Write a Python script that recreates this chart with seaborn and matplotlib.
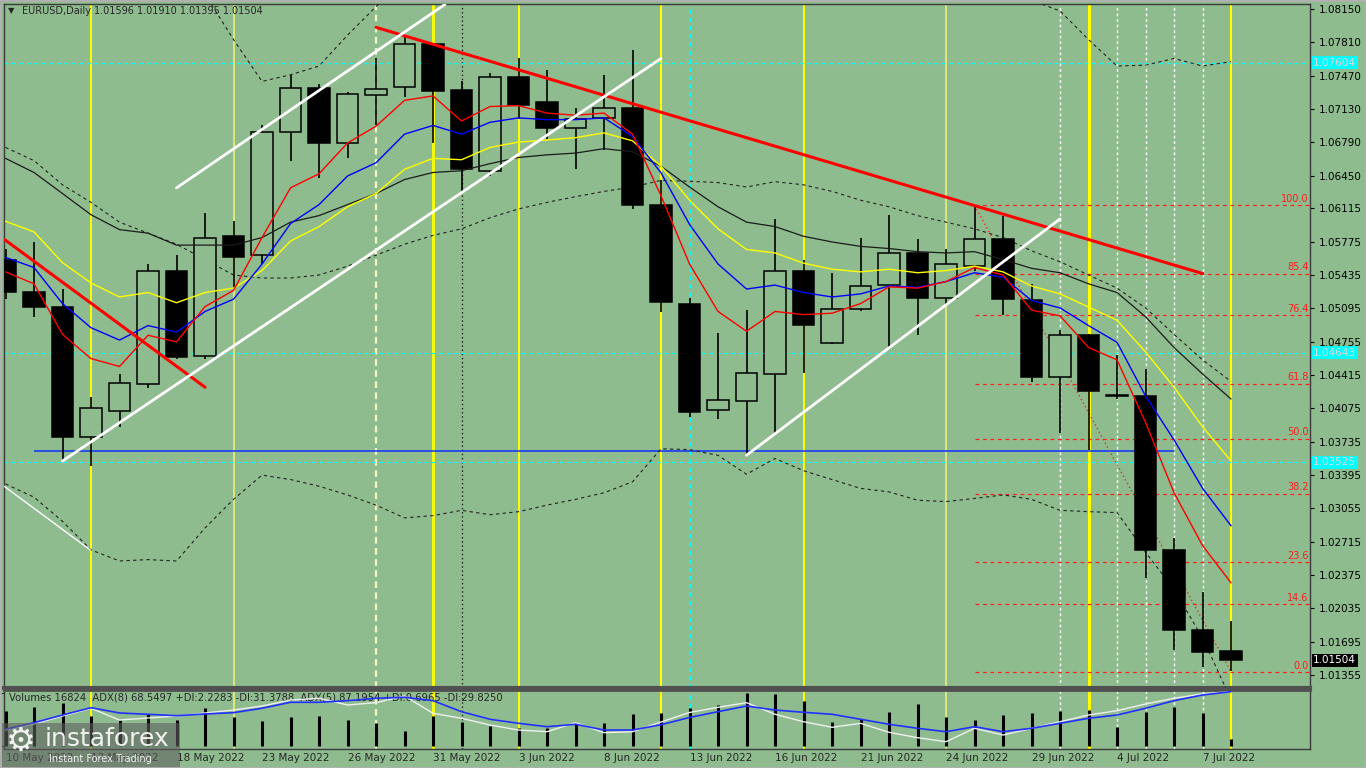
import numpy as np
import seaborn as sns
import matplotlib.pyplot as plt
from matplotlib.patches import Rectangle

# ---- data (EURUSD daily, 10 May .. 8 Jul 2022) ----
opens = [1.05593, 1.05266, 1.05113, 1.03784, 1.04045, 1.04327, 1.05472, 1.04606, 1.05831, 1.05638,
         1.06895, 1.07344, 1.06783, 1.07277, 1.07357, 1.07793, 1.07322, 1.06500, 1.07456, 1.07200,
         1.06940, 1.07039, 1.07142, 1.06154, 1.05144, 1.04058, 1.04148, 1.04426, 1.05481, 1.04740,
         1.05090, 1.05333, 1.05665, 1.05203, 1.05526, 1.05804, 1.05176, 1.04395, 1.04821, 1.04215,
         1.04202, 1.02631, 1.01809, 1.01596]
highs = [1.05700, 1.05773, 1.05288, 1.04188, 1.04426, 1.05548, 1.05638, 1.06065, 1.05984, 1.06971,
         1.07479, 1.07389, 1.07308, 1.07645, 1.07860, 1.07802, 1.07411, 1.07501, 1.07645, 1.07524,
         1.07142, 1.07479, 1.07735, 1.06410, 1.05198, 1.04843, 1.05077, 1.06011, 1.05593, 1.05458,
         1.05818, 1.06051, 1.05804, 1.05701, 1.06146, 1.06042, 1.05346, 1.04875, 1.04830, 1.04615,
         1.04480, 1.02756, 1.02204, 1.01910]
lows = [1.05189, 1.05010, 1.03537, 1.03492, 1.03887, 1.04278, 1.04583, 1.04583, 1.05302, 1.05548,
        1.06603, 1.06424, 1.06626, 1.06962, 1.07254, 1.06783, 1.06289, 1.06446, 1.07030, 1.06828,
        1.06514, 1.06716, 1.06110, 1.05055, 1.03987, 1.03969, 1.03596, 1.03820, 1.04435, 1.04731,
        1.05068, 1.04696, 1.04821, 1.05144, 1.05481, 1.05028, 1.04345, 1.03820, 1.03654, 1.04166,
        1.02348, 1.01611, 1.01432, 1.01395]
closes = [1.05265, 1.05113, 1.03784, 1.04081, 1.04336, 1.05472, 1.04597, 1.05818, 1.05616, 1.06895,
          1.07344, 1.06783, 1.07286, 1.07331, 1.07793, 1.07313, 1.06514, 1.07456, 1.07173, 1.06940,
          1.07030, 1.07142, 1.06154, 1.05158, 1.04033, 1.04157, 1.04440, 1.05481, 1.04929, 1.05086,
          1.05324, 1.05665, 1.05203, 1.05548, 1.05804, 1.05189, 1.04395, 1.04821, 1.04256, 1.04206,
          1.02631, 1.01809, 1.01589, 1.01504]
volumes = [83400, 93800, 101900, 71400, 61800, 75500, 61800, 90600, 69000, 59400,
           69000, 71400, 61800, 55300, 35300, 71400, 57700, 47400, 42600, 42600,
           55300, 53900, 76200, 77900, 91400, 97800, 127390, 123600, 107500, 57700,
           63500, 81700, 100200, 69700, 61800, 73800, 77900, 84100, 85800, 45700,
           81700, 93800, 77900, 16824]

ma_red = [1.05468, 1.05346, 1.04830, 1.04583, 1.04503, 1.04821, 1.04754, 1.05113, 1.05279, 1.05818,
          1.06325, 1.06469, 1.06783, 1.06954, 1.07218, 1.07263, 1.07007, 1.07155, 1.07164, 1.07088,
          1.07066, 1.07088, 1.06873, 1.06244, 1.05548, 1.05064, 1.04862, 1.05064, 1.05032, 1.05046,
          1.05144, 1.05315, 1.05302, 1.05369, 1.05512, 1.05436, 1.05077, 1.05019, 1.04696, 1.04570,
          1.03932, 1.03214, 1.02675, 1.02294]
ma_blue = [1.05616, 1.05512, 1.05144, 1.04898, 1.04772, 1.04920, 1.04853, 1.05064, 1.05189, 1.05548,
           1.05961, 1.06154, 1.06446, 1.06581, 1.06873, 1.06962, 1.06873, 1.06994, 1.07039, 1.07021,
           1.07021, 1.07039, 1.06850, 1.06478, 1.05952, 1.05548, 1.05293, 1.05333, 1.05257, 1.05212,
           1.05243, 1.05324, 1.05310, 1.05369, 1.05459, 1.05414, 1.05176, 1.05100, 1.04920, 1.04749,
           1.04202, 1.03753, 1.03259, 1.02877]
ma_yellow = [1.05984, 1.05876, 1.05562, 1.05355, 1.05212, 1.05257, 1.05153, 1.05257, 1.05302, 1.05481,
             1.05782, 1.05930, 1.06132, 1.06267, 1.06514, 1.06626, 1.06612, 1.06738, 1.06792, 1.06814,
             1.06837, 1.06886, 1.06805, 1.06545, 1.06199, 1.05907, 1.05697, 1.05661, 1.05557, 1.05495,
             1.05468, 1.05495, 1.05459, 1.05481, 1.05526, 1.05468, 1.05324, 1.05243, 1.05109, 1.04974,
             1.04651, 1.04292, 1.03888, 1.03537]
ma_black = [1.06626, 1.06482, 1.06267, 1.06051, 1.05899, 1.05863, 1.05741, 1.05741, 1.05741, 1.05818,
            1.05975, 1.06042, 1.06154, 1.06267, 1.06410, 1.06482, 1.06500, 1.06572, 1.06635, 1.06662,
            1.06680, 1.06725, 1.06693, 1.06545, 1.06334, 1.06132, 1.05975, 1.05930, 1.05831, 1.05773,
            1.05728, 1.05706, 1.05674, 1.05661, 1.05674, 1.05593, 1.05504, 1.05459, 1.05346, 1.05257,
            1.05010, 1.04696, 1.04426, 1.04170]
band_mid = [1.06738, 1.06603, 1.06356, 1.06177, 1.05975, 1.05863, 1.05750, 1.05593, 1.05436, 1.05405,
            1.05405, 1.05436, 1.05526, 1.05638, 1.05750, 1.05840, 1.05907, 1.06020, 1.06110, 1.06177,
            1.06235, 1.06289, 1.06334, 1.06401, 1.06392, 1.06379, 1.06334, 1.06388, 1.06356, 1.06289,
            1.06199, 1.06132, 1.06042, 1.05975, 1.05907, 1.05818, 1.05683, 1.05571, 1.05436, 1.05302,
            1.05100, 1.04830, 1.04570, 1.04350]
nan = np.nan
band_up = [nan, nan, nan, nan, nan, nan, nan, 1.08300, 1.07838, 1.07411,
           1.07479, 1.07568, 1.07883, 1.08174, 1.08450, nan, nan, nan, nan, nan,
           nan, nan, nan, nan, nan, nan, nan, nan, nan, nan,
           nan, nan, nan, nan, nan, 1.08450, 1.08240, 1.08130, 1.07838, 1.07568,
           1.07577, 1.07645, 1.07568, 1.07613]
band_low = [1.03304, 1.03169, 1.02922, 1.02631, 1.02518, 1.02532, 1.02518, 1.02855, 1.03147, 1.03394,
            1.03349, 1.03281, 1.03192, 1.03088, 1.02958, 1.02981, 1.03035, 1.02990, 1.03021, 1.03088,
            1.03147, 1.03214, 1.03326, 1.03663, 1.03654, 1.03596, 1.03403, 1.03564, 1.03439, 1.03349,
            1.03259, 1.03223, 1.03138, 1.03124, 1.03156, 1.03192, 1.03147, 1.03035, 1.03021, 1.03012,
            1.02608, 1.02227, 1.01733, 1.01104]
adx8 = [26.6, 37.3, 49.7, 61.6, 53.0, 50.9, 48.6, 51.4, 53.5, 60.6,
        70.3, 70.3, 72.9, 76.8, 78.4, 72.9, 55.1, 42.8, 36.3, 30.8,
        34.7, 25.4, 25.4, 34.0, 45.7, 55.1, 64.3, 57.8, 54.1, 50.9,
        42.8, 34.7, 28.2, 22.7, 30.8, 22.7, 28.2, 36.3, 44.4, 49.7,
        60.6, 72.9, 82.1, 87.5]
adx5 = [25.4, 35.2, 48.1, 60.6, 41.6, 44.9, 48.1, 53.0, 57.8, 64.3,
        74.0, 76.8, 65.9, 69.7, 80.5, 52.5, 44.4, 33.5, 25.4, 22.7,
        37.3, 21.1, 22.7, 38.4, 53.8, 62.2, 69.7, 50.9, 38.9, 29.8,
        36.3, 21.7, 13.0, 6.5, 28.2, 17.3, 28.2, 38.9, 49.7, 56.7,
        67.6, 76.8, 83.8, 87.5]

date_pos = [0, 3, 6, 9, 12, 15, 18, 21, 24, 27, 30, 33, 36, 39, 42]
date_labels = ["10 May 2022", "13 May 2022", "18 May 2022", "23 May 2022", "26 May 2022",
               "31 May 2022", "3 Jun 2022", "8 Jun 2022", "13 Jun 2022", "16 Jun 2022",
               "21 Jun 2022", "24 Jun 2022", "29 Jun 2022", "4 Jul 2022", "7 Jul 2022"]
price_ticks = [1.08150, 1.07810, 1.07470, 1.07130, 1.06790, 1.06450, 1.06115, 1.05775, 1.05435,
               1.05095, 1.04755, 1.04415, 1.04075, 1.03735, 1.03395, 1.03055, 1.02715, 1.02375,
               1.02035, 1.01695, 1.01355]
fib_levels = [0.0, 14.6, 23.6, 38.2, 50.0, 61.8, 76.4, 85.4, 100.0]
fib_low, fib_high = 1.01387, 1.06146
cyan_levels = [1.07604, 1.04643, 1.03525]
support_level = 1.03640

# hand drawn trendlines: (bar, price) pairs
red_trend = [(13, 1.07963), (42, 1.05451)]
red_trend_left = [(-0.02, 1.05795), (7, 1.04291)]
white_lines = [[(6, 1.06325), (15.42, 1.08197)],
               [(2, 1.03538), (23, 1.07645)],
               [(26, 1.03597), (37, 1.06008)],
               [(-0.05, 1.03281), (2.97, 1.02631)]]

BG = "#8FBC8F"
sns.set_style("white")
plt.rcParams['font.family'] = ['DejaVu Sans']

W, H = 1366, 768
fig = plt.figure(figsize=(W / 100, H / 100), dpi=100, facecolor=BG)


def box(x0, y0, x1, y1):
    return [x0 / W, 1 - y1 / H, (x1 - x0) / W, (y1 - y0) / H]


ax = fig.add_axes(box(4, 4, 1310, 688))
axv = fig.add_axes(box(4, 690, 1310, 749))
idx = np.arange(len(opens))
xlim = (-0.053, 45.77)

for a in (ax, axv):
    a.set_facecolor(BG)
    a.set_xlim(*xlim)
    for s in a.spines.values():
        s.set_color("#3a3a3a")
        s.set_linewidth(1)
ax.spines["bottom"].set_linewidth(3)
ax.spines["bottom"].set_color("#505050")
axv.spines["top"].set_linewidth(2)
axv.spines["top"].set_color("#505050")

ax.set_ylim(1.01222, 1.08201)

# vertical marker lines
vlines_style = [(3, "#FFFF00", "-", 1.4), (8, "#F2F27A", "-", 1.1), (13, "#F5F5C0", (0, (3, 2)), 1.6),
                (15, "#FFFF00", "-", 2.0), (16, "#202020", (0, (1, 2)), 1.0), (18, "#FFFF00", "-", 1.4),
                (23, "#FFFF00", "-", 1.5), (24, "#00FFFF", (0, (3, 3)), 1.0), (28, "#FFFF00", "-", 1.4),
                (33, "#F2F27A", "-", 1.1), (37, "#FFFFFF", (0, (2, 2)), 1.0), (38, "#FFFF00", "-", 2.2),
                (39, "#FFFFFF", (0, (2, 2)), 1.0), (40, "#FFFFFF", (0, (2, 2)), 1.0),
                (41, "#FFFFFF", (0, (2, 2)), 1.0), (42, "#FFFFFF", (0, (2, 2)), 1.0),
                (43, "#FFFF00", "-", 1.5)]
for xi, col, ls, lw in vlines_style:
    ax.axvline(xi, color=col, ls=ls, lw=lw, zorder=1)
    axv.axvline(xi, color=col, ls=ls, lw=lw, zorder=1)

# horizontal levels
for lvl in cyan_levels:
    ax.axhline(lvl, color="#00FFFF", ls=(0, (3, 3)), lw=0.9, zorder=1)
ax.hlines(support_level, 1, 41, color="#1030FF", lw=1.1, zorder=2)

# fibonacci grid
for lv in fib_levels:
    p = fib_low + (fib_high - fib_low) * lv / 100
    ax.hlines(p, 34, xlim[1], color="#FF2020", ls=(0, (3, 3)), lw=0.9, zorder=2)
    ax.text(45.72, p + 0.00012, f"{lv:.1f}", color="#FF1A1A", fontsize=7, ha="right", va="bottom", zorder=6)
ax.plot([34, 43], [fib_high, fib_low], color="#FF2020", ls=(0, (1, 2)), lw=1.0, zorder=3)

# bands and moving averages
ax.plot(idx, band_up, color="#222222", ls=(0, (3, 3)), lw=0.8, zorder=3)
ax.plot(idx, band_mid, color="#222222", ls=(0, (3, 3)), lw=0.8, zorder=3)
ax.plot(idx, band_low, color="#222222", ls=(0, (3, 3)), lw=0.8, zorder=3)

# candles
body_w = 0.76
for i in idx:
    o, h, l, c = opens[i], highs[i], lows[i], closes[i]
    ax.vlines(i, l, h, color="black", lw=1.2, zorder=4)
    fill = "black" if c < o else BG
    ax.bar(i, max(abs(c - o), 0.00004), bottom=min(o, c), width=body_w, color=fill,
           edgecolor="black", linewidth=1.1, zorder=5)

sns.lineplot(x=idx, y=ma_black, ax=ax, color="#1a1a1a", linewidth=0.9, zorder=6)
sns.lineplot(x=idx, y=ma_yellow, ax=ax, color="#FFFF00", linewidth=1.0, zorder=6)
sns.lineplot(x=idx, y=ma_blue, ax=ax, color="#0000FF", linewidth=1.0, zorder=6)
sns.lineplot(x=idx, y=ma_red, ax=ax, color="#FF0000", linewidth=1.0, zorder=6)

# trendlines
ax.plot(*zip(*red_trend), color="#FF0000", lw=2.2, zorder=7)
ax.plot(*zip(*red_trend_left), color="#FF0000", lw=2.2, zorder=7)
for k, seg in enumerate(white_lines):
    ax.plot(*zip(*seg), color="white", lw=2.0 if k < 3 else 1.0, zorder=7)

# price axis
ax.yaxis.tick_right()
ax.set_yticks(price_ticks)
ax.set_yticklabels([f"{t:.5f}" for t in price_ticks])
ax.tick_params(axis="y", labelsize=7.5, length=3, pad=3, colors="black", direction="out")
ax.tick_params(axis="x", bottom=False, labelbottom=False)
ax.set_xlabel("")
ax.set_ylabel("")

# value boxes on the price scale
for lvl in cyan_levels:
    ax.text(1.0025, lvl, f"{lvl:.5f}", transform=ax.get_yaxis_transform(), fontsize=7.5, color="#D8D8D8",
            va="center", ha="left", zorder=8, clip_on=False,
            bbox=dict(boxstyle="square,pad=0.15", fc="#00FFFF", ec="none"))
ax.text(1.0025, closes[-1], f"{closes[-1]:.5f}", transform=ax.get_yaxis_transform(), fontsize=7.5,
        color="white", va="center", ha="left", zorder=8, clip_on=False,
        bbox=dict(boxstyle="square,pad=0.15", fc="black", ec="none"))

# volume panel
axv.set_ylim(-7900, 133900)
axv.vlines(idx, 0, volumes, color="black", lw=2.2, zorder=3)
axv.yaxis.tick_right()
axv.set_yticks([0, 127390])
axv.set_yticklabels(["0", "127390"])
axv.tick_params(axis="y", labelsize=7.5, length=3, pad=3)
axv.set_xticks(date_pos)
axv.set_xticklabels(date_labels, ha="left", fontsize=7.5)
axv.tick_params(axis="x", length=2, pad=1)

axa = axv.twinx()
axa.set_ylim(-5.3, 90.2)
axa.set_xlim(*xlim)
sns.lineplot(x=idx, y=adx5, ax=axa, color="#F0F0F0", linewidth=1.0, zorder=4)
sns.lineplot(x=idx, y=adx8, ax=axa, color="#2030FF", linewidth=1.2, zorder=5)
axa.set_yticks([])
axa.set_ylabel("")
for s in axa.spines.values():
    s.set_visible(False)

axv.text(0.004, 0.88, "Volumes 16824  ADX(8) 68.5497 +DI:2.2283 -DI:31.3788  ADX(5) 87.1954 +DI:0.6965 -DI:29.8250",
         transform=axv.transAxes, fontsize=7.2, va="center", ha="left", zorder=9)

# header
fig.text(8 / W, 1 - 11 / H, "▼", fontsize=6, va="center", ha="left")
fig.text(22 / W, 1 - 11 / H, "EURUSD,Daily", fontsize=7, va="center", ha="left")
fig.text(94 / W, 1 - 11 / H, "1.01596 1.01910 1.01395 1.01504", fontsize=7, va="center", ha="left")

# logo
fig.patches.append(Rectangle((0, 0), 180 / W, 45 / H, transform=fig.transFigure,
                             fc="#606060", ec="none", alpha=0.6, zorder=20))
fig.text(21 / W, 1 - 741 / H, "⚙", fontsize=24, color="white", alpha=0.9, ha="center", va="center", zorder=21)
fig.text(45 / W, 1 - 739 / H, "instaforex", fontsize=18, color="white", alpha=0.9, ha="left", va="center", zorder=21)
fig.text(49 / W, 1 - 759 / H, "Instant Forex Trading", fontsize=7, color="white", alpha=0.9, ha="left",
         va="center", zorder=21)

# window frame
fig.patches.append(Rectangle((0, 0), 1, 1, transform=fig.transFigure, fill=False, ec="#B0B0B0", lw=2, zorder=22))

fig.savefig("out.png", dpi=100, facecolor=BG)
